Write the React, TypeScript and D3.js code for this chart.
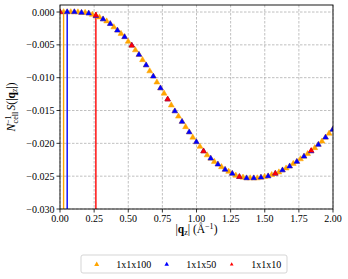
import React from 'react';
import * as d3 from 'd3';

// q spacing of each supercell (1/Å)
const qStep100 = 0.02629;
const qStep50 = 0.05258;
const qStep10 = 0.2629;

// N_cell^-1 S(|q_z|)
const s100 = [
  0.0, 0.0, 0.0, 0.0, 0.0, -0.00002, -0.0001, -0.0001, -0.0002, -0.0004,
  -0.0006, -0.0008, -0.0011, -0.0014, -0.0018, -0.0023, -0.0028, -0.0033, -0.0038, -0.0045,
  -0.0051, -0.0058, -0.0065, -0.0073, -0.0081, -0.009, -0.0098, -0.0107, -0.0116, -0.0124,
  -0.0133, -0.0142, -0.0151, -0.0159, -0.0167, -0.0175, -0.0183, -0.0191, -0.0198, -0.0205,
  -0.0212, -0.0218, -0.0223, -0.0228, -0.0232, -0.0236, -0.024, -0.0243, -0.0246, -0.0249,
  -0.0251, -0.0252, -0.0253, -0.0253, -0.0253, -0.0253, -0.0252, -0.0251, -0.025, -0.0248,
  -0.0246, -0.0244, -0.0241, -0.0238, -0.0235, -0.0231, -0.0228, -0.0224, -0.022, -0.0216,
  -0.0212, -0.0207, -0.0202, -0.0197, -0.0191, -0.0185, -0.0179,
];
const s50 = [
  0.0, 0.0, 0.0, -0.0001, -0.0002, -0.0006, -0.0011, -0.0018, -0.0028, -0.0038,
  -0.0051, -0.0065, -0.0081, -0.0098, -0.0116, -0.0133, -0.0151, -0.0167, -0.0183, -0.0198,
  -0.0212, -0.0223, -0.0232, -0.024, -0.0246, -0.0251, -0.0253, -0.0253, -0.0252, -0.025,
  -0.0246, -0.0241, -0.0235, -0.0228, -0.022, -0.0212, -0.0202, -0.0191, -0.0179,
];
const s10 = [0.0, -0.0005, -0.0051, -0.0133, -0.0212, -0.0251, -0.0246, -0.0211];

const series = [
  { label: '1x1x100', step: qStep100, values: s100, color: 'orange', size: 15, legendSize: 11 },
  { label: '1x1x50', step: qStep50, values: s50, color: 'blue', size: 13, legendSize: 9 },
  { label: '1x1x10', step: qStep10, values: s10, color: 'red', size: 12, legendSize: 6 },
];

const xTicks = [0, 0.25, 0.5, 0.75, 1.0, 1.25, 1.5, 1.75, 2.0];
const yTicks = [0, -0.005, -0.01, -0.015, -0.02, -0.025, -0.03];

const W = 348, H = 279;
const plot = { left: 60, right: 333, top: 5, bottom: 209 };

export default function App() {
  const x = d3.scaleLinear().domain([0, 2]).range([plot.left, plot.right]);
  const y = d3.scaleLinear().domain([-0.03, 0.00107]).range([plot.bottom, plot.top]);
  const tri = (s: number) => d3.symbol(d3.symbolTriangle, s)() as string;
  const font = '"Liberation Serif", "DejaVu Serif", serif';

  const legendX = [96.7, 166.7, 231.7];

  return (
    <svg width={W} height={H} style={{ position: 'absolute', left: 0, top: 0 }} fontFamily={font}>
      <rect width={W} height={H} fill="white" />
      <defs>
        <clipPath id="clip">
          <rect x={plot.left} y={plot.top} width={plot.right - plot.left} height={plot.bottom - plot.top} />
        </clipPath>
      </defs>
      {/* grid */}
      {xTicks.map((t) => (
        <line key={'gx' + t} x1={x(t)} x2={x(t)} y1={plot.top} y2={plot.bottom}
          stroke="#b0b0b0" strokeWidth={0.8} strokeDasharray="2.5,1.5" />
      ))}
      {yTicks.map((t) => (
        <line key={'gy' + t} y1={y(t)} y2={y(t)} x1={plot.left} x2={plot.right}
          stroke="#b0b0b0" strokeWidth={0.8} strokeDasharray="2.5,1.5" />
      ))}
      <g clipPath="url(#clip)">
        {/* first q point of each cell */}
        {series.map((s) => (
          <line key={'v' + s.label} x1={x(s.step)} x2={x(s.step)} y1={y(-0.03)} y2={y(0)}
            stroke={s.color} strokeWidth={1.4} />
        ))}
        {series.map((s) => (
          <g key={s.label} fill={s.color} stroke={s.color} strokeWidth={0.5} strokeLinejoin="miter">
            {s.values.map((v, i) => (
              <path key={i} d={tri(s.size)} transform={`translate(${x(i * s.step)},${y(v)})`} />
            ))}
          </g>
        ))}
      </g>
      <rect x={plot.left} y={plot.top} width={plot.right - plot.left} height={plot.bottom - plot.top}
        fill="none" stroke="black" strokeWidth={0.9} />
      {/* ticks */}
      {xTicks.map((t) => (
        <g key={'tx' + t}>
          <line x1={x(t)} x2={x(t)} y1={plot.bottom} y2={plot.bottom + 3.5} stroke="black" strokeWidth={0.8} />
          <text x={x(t)} y={plot.bottom + 13} fontSize={10} textAnchor="middle">{d3.format('.2f')(t)}</text>
        </g>
      ))}
      {yTicks.map((t) => (
        <g key={'ty' + t}>
          <line x1={plot.left - 3.5} x2={plot.left} y1={y(t)} y2={y(t)} stroke="black" strokeWidth={0.8} />
          <text x={plot.left - 5.5} y={y(t) + 3.5} fontSize={10} textAnchor="end">{d3.format('.3f')(t)}</text>
        </g>
      ))}
      {/* axis labels */}
      <text x={(plot.left + plot.right) / 2} y={233} fontSize={11.5} textAnchor="middle">
        |<tspan fontWeight="bold">q</tspan>
        <tspan fontSize={8} dy={2}>z</tspan>
        <tspan dy={-2}>| (Å</tspan>
        <tspan fontSize={8} dy={-4}>−1</tspan>
        <tspan dy={4}>)</tspan>
      </text>
      <text transform="translate(15,107) rotate(-90)" fontSize={11.5} textAnchor="middle">
        <tspan fontStyle="italic">N</tspan>
        <tspan fontSize={8} dy={-4.5}>−1</tspan>
        <tspan fontSize={8} dx={-8} dy={7.5}>cell</tspan>
        <tspan fontStyle="italic" dx={1.5} dy={-3}>S</tspan>
        <tspan>(|</tspan>
        <tspan fontWeight="bold">q</tspan>
        <tspan fontSize={8} dy={2}>z</tspan>
        <tspan dy={-2}>|)</tspan>
      </text>
      {/* legend */}
      <rect x={81} y={255} width={206} height={18} rx={2} fill="white" stroke="#d0d0d0" strokeWidth={0.9} />
      {series.map((s, i) => (
        <g key={'l' + s.label}>
          <path d={tri(s.legendSize)} fill={s.color} transform={`translate(${legendX[i]},264.5)`} />
          <text x={legendX[i] + 19.5} y={268} fontSize={10}>{s.label}</text>
        </g>
      ))}
    </svg>
  );
}
